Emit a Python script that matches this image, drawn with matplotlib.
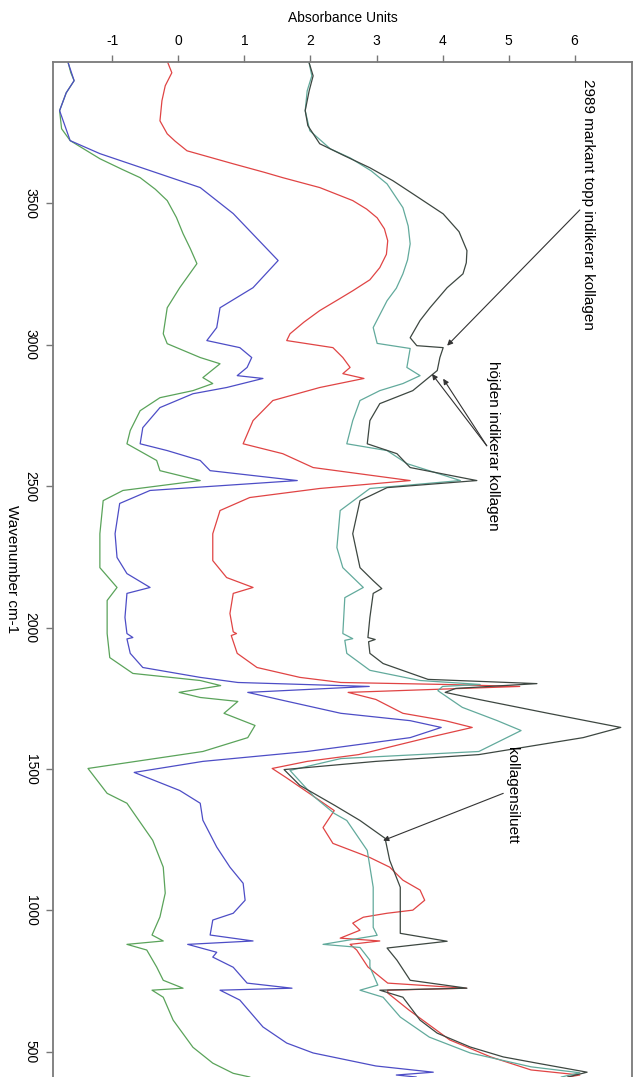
import matplotlib
matplotlib.use("Agg")
import matplotlib.pyplot as plt

plt.rcParams['font.family'] = ['Liberation Sans', 'DejaVu Sans']
plt.rcParams['axes.unicode_minus'] = False

# spectra, wavenumber (cm-1) and absorbance
green_wn = [3997, 3962, 3934, 3891, 3828, 3764, 3722, 3658, 3620, 3591, 3550, 3510, 3450, 3393,
            3340, 3287, 3202, 3131, 3039, 3004, 2955, 2933, 2884, 2863, 2838, 2813, 2767, 2697,
            2650, 2591, 2555, 2520, 2485, 2449, 2332, 2212, 2142, 2096, 1979, 1894, 1838, 1813,
            1795, 1771, 1753, 1739, 1697, 1654, 1611, 1562, 1502, 1414, 1379, 1248, 1153, 1061,
            977, 913, 892, 880, 860, 800, 753, 725, 718, 693, 612, 516, 460, 424, 411]
green_ab = [-1.67, -1.63, -1.58, -1.70, -1.80, -1.77, -1.64, -1.19, -0.85, -0.58, -0.35, -0.17,
            -0.03, 0.07, 0.18, 0.28, 0.02, -0.17, -0.23, -0.17, 0.33, 0.63, 0.37, 0.52, 0.22,
            -0.28, -0.58, -0.73, -0.78, -0.33, -0.28, 0.33, -0.84, -1.14, -1.19, -1.19, -0.93,
            -1.08, -1.08, -1.04, -0.69, 0.33, 0.64, 0.01, 0.33, 0.90, 0.69, 1.16, 1.05, 0.37,
            -1.37, -1.08, -0.78, -0.39, -0.23, -0.20, -0.28, -0.40, -0.23, -0.78, -0.48, -0.33,
            -0.23, 0.07, -0.40, -0.23, -0.08, 0.22, 0.52, 0.83, 1.08]

blue_wn = [3997, 3962, 3934, 3891, 3828, 3722, 3676, 3616, 3556, 3464, 3298, 3202, 3131, 3061,
           3015, 2990, 2955, 2920, 2891, 2881, 2849, 2827, 2778, 2707, 2650, 2626, 2591, 2555,
           2520, 2485, 2439, 2332, 2248, 2191, 2142, 2121, 2036, 1979, 1965, 1960, 1909, 1859,
           1824, 1806, 1792, 1771, 1746, 1697, 1671, 1647, 1611, 1562, 1527, 1488, 1424, 1379,
           1319, 1224, 1153, 1096, 1036, 990, 966, 913, 892, 880, 852, 835, 799, 743, 725, 718,
           683, 588, 531, 496, 450, 428, 418, 411]
blue_ab = [-1.67, -1.62, -1.58, -1.70, -1.80, -1.64, -1.19, -0.43, 0.33, 0.83, 1.51, 1.13, 0.63,
           0.58, 0.43, 0.93, 1.11, 1.04, 0.89, 1.28, 0.73, 0.22, -0.28, -0.54, -0.58, -0.17, 0.33,
           0.48, 1.80, -0.43, -0.89, -0.96, -0.93, -0.78, -0.43, -0.78, -0.81, -0.78, -0.69, -0.78,
           -0.73, -0.54, 0.33, 0.90, 2.89, 1.05, 1.52, 2.46, 3.51, 3.98, 3.51, 1.95, 0.37, -0.67,
           0.02, 0.33, 0.37, 0.58, 0.78, 0.98, 1.01, 0.83, 0.52, 0.48, 1.13, 0.14, 0.58, 0.52,
           0.83, 1.04, 1.72, 0.63, 0.93, 1.28, 1.64, 2.04, 2.99, 3.86, 3.30, 3.60]

red_wn = [3997, 3962, 3916, 3863, 3792, 3746, 3720, 3686, 3665, 3640, 3610, 3591, 3556, 3510,
          3480, 3449, 3410, 3368, 3320, 3273, 3230, 3191, 3160, 3121, 3080, 3039, 3015, 2990,
          2955, 2920, 2898, 2881, 2849, 2803, 2732, 2650, 2615, 2566, 2520, 2492, 2460, 2414,
          2332, 2237, 2177, 2142, 2121, 2050, 1985, 1979, 1972, 1909, 1859, 1824, 1806, 1799,
          1792, 1771, 1746, 1697, 1671, 1647, 1611, 1551, 1527, 1502, 1470, 1403, 1353, 1293,
          1237, 1187, 1153, 1107, 1072, 1036, 1001, 990, 976, 955, 930, 902, 892, 880, 860, 800,
          743, 725, 718, 708, 648, 542, 482, 436, 418, 411]
red_ab = [-0.16, -0.10, -0.20, -0.25, -0.28, -0.17, -0.05, 0.13, 0.45, 0.83, 1.30, 1.58, 2.14,
          2.64, 2.85, 3.01, 3.12, 3.17, 3.15, 3.05, 2.90, 2.64, 2.42, 2.14, 1.90, 1.69, 1.64, 2.34,
          2.49, 2.60, 2.49, 2.81, 2.14, 1.43, 1.13, 0.98, 1.58, 2.04, 3.51, 2.14, 1.08, 0.63,
          0.52, 0.52, 0.73, 1.13, 0.83, 0.78, 0.83, 0.88, 0.80, 0.89, 1.19, 1.84, 2.46, 4.04,
          5.17, 2.57, 2.99, 3.40, 4.04, 4.45, 3.78, 2.73, 1.95, 1.42, 1.63, 2.05, 2.36, 2.19,
          2.34, 2.90, 3.20, 3.40, 3.66, 3.73, 3.55, 3.16, 2.80, 2.64, 2.75, 2.45, 3.05, 2.60,
          2.70, 2.87, 3.17, 4.36, 3.17, 3.17, 3.49, 4.11, 4.73, 5.34, 6.08, 5.90]

teal_wn = [3997, 3951, 3898, 3828, 3757, 3693, 3661, 3615, 3569, 3485, 3420, 3357, 3300, 3251,
           3200, 3156, 3061, 3005, 2987, 2920, 2891, 2863, 2838, 2803, 2732, 2650, 2626, 2580,
           2520, 2492, 2414, 2283, 2212, 2142, 2106, 1979, 1961, 1955, 1909, 1849, 1813, 1799,
           1792, 1777, 1718, 1671, 1636, 1562, 1537, 1495, 1403, 1343, 1318, 1212, 1082, 940,
           912, 880, 869, 824, 800, 736, 718, 693, 623, 552, 496, 447, 426, 411]
teal_ab = [1.98, 2.02, 1.95, 1.92, 1.99, 2.30, 2.60, 2.92, 3.16, 3.40, 3.48, 3.51, 3.47, 3.40,
           3.30, 3.16, 2.95, 3.01, 3.51, 3.46, 3.66, 3.40, 3.05, 2.75, 2.64, 2.55, 3.16, 3.46,
           4.27, 2.90, 2.45, 2.40, 2.49, 2.80, 2.52, 2.49, 2.64, 2.52, 2.55, 2.90, 3.66, 4.57,
           4.00, 3.93, 4.30, 4.83, 5.19, 4.55, 2.46, 1.69, 2.05, 2.36, 2.55, 2.86, 2.95, 2.95,
           3.01, 2.19, 2.75, 2.90, 2.90, 3.02, 2.75, 3.10, 3.36, 3.80, 4.42, 5.34, 6.08, 5.80]

black_wn = [3997, 3951, 3898, 3828, 3775, 3711, 3670, 3626, 3580, 3534, 3463, 3400, 3333, 3290,
            3251, 3202, 3131, 3086, 3025, 2997, 2990, 2955, 2909, 2838, 2792, 2732, 2650, 2615,
            2566, 2520, 2495, 2449, 2332, 2212, 2166, 2138, 2121, 2036, 1965, 1958, 1950, 1909,
            1873, 1817, 1802, 1785, 1771, 1746, 1697, 1661, 1647, 1611, 1551, 1527, 1498, 1442,
            1371, 1318, 1255, 1177, 1082, 990, 919, 891, 867, 824, 753, 725, 718, 693, 612, 566,
            517, 482, 460, 428, 411]
black_ab = [1.98, 2.04, 1.98, 1.92, 1.96, 2.14, 2.50, 2.90, 3.25, 3.55, 4.01, 4.25, 4.37, 4.36,
            4.31, 4.07, 3.81, 3.66, 3.51, 3.61, 4.01, 3.96, 3.92, 3.55, 3.05, 2.90, 2.86, 3.31,
            3.51, 4.52, 3.16, 2.75, 2.64, 2.75, 2.95, 3.08, 2.95, 2.90, 2.87, 2.98, 2.88, 2.90,
            3.10, 3.78, 5.43, 4.20, 4.04, 4.55, 5.60, 6.39, 6.70, 6.13, 4.55, 2.99, 1.60, 1.84,
            2.37, 2.75, 3.13, 3.20, 3.36, 3.36, 3.36, 4.07, 3.16, 3.31, 3.51, 4.37, 3.05, 3.40,
            3.66, 3.92, 4.42, 4.92, 5.43, 6.19, 5.90]

abs_ticks = [-1, 0, 1, 2, 3, 4, 5, 6]
wn_ticks = [3500, 3000, 2500, 2000, 1500, 1000, 500]

fig = plt.figure(figsize=(6.41, 10.77), dpi=100)
ax = fig.add_axes([53 / 641, 0, 579 / 641, 1015 / 1077])

ax.plot(green_ab, green_wn, color='#5aa35a', lw=0.9)
ax.plot(blue_ab, blue_wn, color='#4d4dc6', lw=0.9)
ax.plot(red_ab, red_wn, color='#e04444', lw=0.9)
ax.plot(teal_ab, teal_wn, color='#62aa9c', lw=0.9)
ax.plot(black_ab, black_wn, color='#3d4741', lw=0.9)

ax.set_xlim(-1.90, 6.87)
ax.set_ylim(411, 4000)

ax.xaxis.tick_top()
ax.xaxis.set_label_position('top')
ax.set_xticks(abs_ticks)
ax.set_yticks(wn_ticks)
ax.tick_params(axis='x', direction='out', length=5, width=1, color='#777777', labelsize=10, pad=5)
ax.tick_params(axis='y', direction='out', length=5, width=1, color='#777777', labelsize=10, pad=6,
               labelrotation=-90)
for lab in ax.get_yticklabels():
    lab.set_verticalalignment('center')
ax.set_xlabel('Absorbance Units', fontsize=10, labelpad=9)
ax.set_ylabel('Wavenumber cm-1', fontsize=11, rotation=-90, labelpad=6, va='center')
ax.yaxis.set_label_coords(-0.07, 0.5)

for side in ['top', 'left', 'right']:
    ax.spines[side].set_color('#7a7a7a')
    ax.spines[side].set_linewidth(1.3)
ax.spines['bottom'].set_visible(False)

arrow = dict(arrowstyle='-|>', color='#333333', lw=0.8, mutation_scale=8, shrinkA=0, shrinkB=0)
ax.annotate('', xy=(4.07, 2997), xytext=(6.08, 3477), arrowprops=arrow)
ax.annotate('', xy=(3.84, 2897), xytext=(4.67, 2643), arrowprops=arrow)
ax.annotate('', xy=(4.01, 2880), xytext=(4.67, 2643), arrowprops=arrow)
ax.annotate('', xy=(3.10, 1247), xytext=(4.92, 1414), arrowprops=arrow)

ax.text(6.20, 3940, '2989 markant topp indikerar kollagen', rotation=-90, ha='center', va='top',
        fontsize=11)
ax.text(4.77, 2944, 'höjden indikerar kollagen', rotation=-90, ha='center', va='top', fontsize=11)
ax.text(5.05, 1577, 'kollagensiluett', rotation=-90, ha='center', va='top', fontsize=11)

fig.savefig('out.png', dpi=100)
